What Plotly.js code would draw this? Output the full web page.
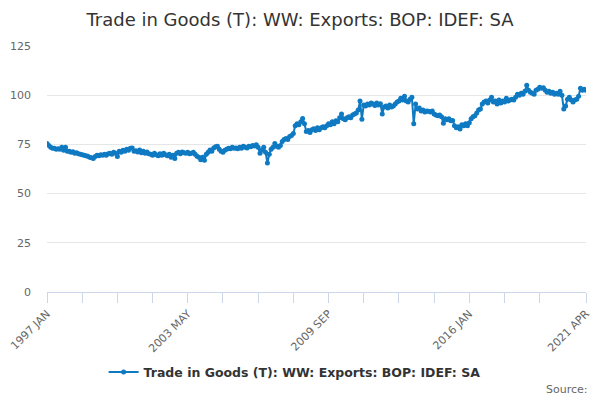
<!DOCTYPE html>
<html>
<head>
<meta charset="utf-8">
<script src="https://cdn.plot.ly/plotly-3.0.1.min.js"></script>
<style>
  html, body { margin: 0; padding: 0; background: #fff; }
  #graph { width: 600px; height: 400px; }
</style>
</head>
<body>
<div id="graph"></div>
<script>
// Monthly series, 1997 JAN .. 2021 APR
const startYear = 1997;
const monthNames = ['JAN', 'FEB', 'MAR', 'APR', 'MAY', 'JUN', 'JUL', 'AUG', 'SEP', 'OCT', 'NOV', 'DEC'];

const exportsIdef = [
    75.5, 74.5, 73.5, 73, 73, 72.5, 72.8, 72.5, 73.5, 72, 73.5, 71.5,        // 1997
    71.5, 71, 71.3, 70.5, 70.8, 70.2, 70, 69.8, 69.5, 69.2, 69, 68.5,        // 1998
    68.2, 67.8, 68.8, 69.5, 69.2, 69.8, 69.5, 70, 69.5, 70.2, 70.5, 70,      // 1999
    71, 70.5, 68.8, 71.5, 71, 72, 71.5, 72.5, 72, 73, 73.2, 71.5,            // 2000
    71.8, 71.2, 72.2, 70.8, 71.5, 70.5, 71.2, 70.2, 70, 69.5, 70.5, 69.8,    // 2001
    69.2, 70.2, 69.5, 70.5, 69.8, 69.2, 70, 68.5, 69.5, 67.8, 70.5, 71,      // 2002
    70.2, 71.2, 70.8, 70.5, 71, 70.2, 70.5, 71, 70, 69, 68.5, 67.2,          // 2003
    68.5, 67, 70, 71, 72.2, 71.5, 73.2, 73.8, 74, 72.5, 71.5, 71,            // 2004
    72, 72.5, 73, 72.8, 73.5, 73, 73.2, 72.8, 73.5, 73, 74, 73.5,            // 2005
    73.2, 74, 73.8, 74.5, 74.2, 74.8, 73.5, 70.5, 72, 73.5, 71, 65.5,        // 2006
    70, 72.5, 73.5, 75.5, 74, 73.5, 74.5, 76.5, 77.5, 78, 77.5, 79,          // 2007
    79.5, 80.5, 84.5, 85.5, 85, 86.5, 88.2, 85.5, 81.5, 82, 81, 82.5,        // 2008
    83, 82, 83.5, 82.5, 83.5, 84, 83.5, 84.5, 85.5, 85, 86.5, 85.5,          // 2009
    87, 86.5, 88.5, 90.5, 88, 87.5, 88.5, 89, 88.5, 90, 90.5, 91,            // 2010
    92.5, 97, 87.8, 95, 94.5, 95.5, 95, 96, 95.5, 94.8, 96, 95,              // 2011
    95.7, 90.5, 94, 94.5, 93.5, 95, 94, 94.5, 95.5, 96.5, 97, 98.5,          // 2012
    97.5, 99.5, 97, 96.5, 98, 99, 85.5, 95.5, 93, 93.5, 92, 92.5,            // 2013
    91.5, 92, 91.8, 91.5, 92, 90.5, 90, 89.5, 90, 89, 85.8, 88,              // 2014
    87.5, 88, 87, 87.2, 84.5, 83.5, 84, 82.8, 85, 84.5, 85.5, 84.5,          // 2015
    86, 88, 89, 89.5, 91, 92.5, 93, 95.5, 96.5, 97, 96, 97.5,                // 2016
    99, 96.5, 97, 95.5, 97.5, 96, 97, 96.5, 98.5, 97, 97.5, 98,              // 2017
    97.5, 99, 100.5, 100, 101, 100.5, 102, 105, 102.5, 101.5, 101, 100.5,    // 2018
    102.5, 103, 104, 103.5, 103.8, 102.5, 101.5, 102, 101, 101.5, 100.5, 101, // 2019
    100.5, 102, 100, 93, 94.5, 98, 99, 97.5, 96.5, 97.5, 98, 99.5,           // 2020
    103.5, 102.5, 103, 102.5                                                 // 2021
];

// month labels for the category axis
const months = [];
for (let i = 0; i < exportsIdef.length; i++) {
    months.push((startYear + Math.floor(i / 12)) + ' ' + monthNames[i % 12]);
}

// ticks every 19 months, labels every 76, plus the last month
const tickEvery = 19;
const labelEvery = 76;
const tickIdx = [];
for (let i = 0; i < months.length - tickEvery / 2; i += tickEvery) tickIdx.push(i);
tickIdx.push(months.length - 1);
const tickVals = tickIdx.map(i => months[i]);
const tickText = tickIdx.map(i => (i % labelEvery === 0 || i === months.length - 1) ? months[i] : '');

const yTicks = [0, 25, 50, 75, 100, 125];

const blue = '#0f7ac2';
const font = 'DejaVu Sans, sans-serif';

var trace = {
    x: months,
    y: exportsIdef,
    type: 'scatter',
    mode: 'lines+markers',
    name: 'Trade in Goods (T): WW: Exports: BOP: IDEF: SA',
    line: {color: blue, width: 2},
    marker: {color: blue, size: 5}
};

var layout = {
    width: 600,
    height: 400,
    paper_bgcolor: '#fff',
    plot_bgcolor: '#fff',
    margin: {l: 46.5, r: 14, t: 46, b: 107.5},
    font: {family: font, color: '#666'},
    title: {
        text: 'Trade in Goods (T): WW: Exports: BOP: IDEF: SA',
        font: {family: font, size: 18, color: '#333'},
        x: 0.5,
        xref: 'container',
        y: 0.95,
        yref: 'container',
        yanchor: 'middle'
    },
    xaxis: {
        type: 'category',
        range: [0, months.length - 1],
        showgrid: false,
        showline: true,
        linecolor: '#ccd6eb',
        linewidth: 1,
        ticks: 'outside',
        ticklen: 10,
        tickcolor: '#ccd6eb',
        tickmode: 'array',
        tickvals: tickVals,
        ticktext: tickText,
        tickangle: -45,
        tickfont: {family: font, size: 11, color: '#666'},
        zeroline: false,
        fixedrange: true
    },
    yaxis: {
        range: [0, 125],
        tickmode: 'array',
        tickvals: yTicks,
        gridcolor: '#e6e6e6',
        gridwidth: 1,
        zeroline: false,
        showline: false,
        ticklabelstandoff: 15,
        tickfont: {family: font, size: 11, color: '#666'},
        fixedrange: true
    },
    showlegend: true,
    legend: {
        orientation: 'h',
        x: 0.105,
        xanchor: 'left',
        y: -0.327,
        yanchor: 'middle',
        font: {family: font, size: 12.5, color: '#333', weight: 'bold'}
    },
    annotations: [{
        text: 'Source:',
        xref: 'paper',
        yref: 'paper',
        x: 1,
        xshift: 4,
        xanchor: 'right',
        y: -0.396,
        yanchor: 'middle',
        showarrow: false,
        font: {family: font, size: 11, color: '#666'}
    }]
};

Plotly.newPlot('graph', [trace], layout, {displayModeBar: false, staticPlot: true});
</script>
</body>
</html>
